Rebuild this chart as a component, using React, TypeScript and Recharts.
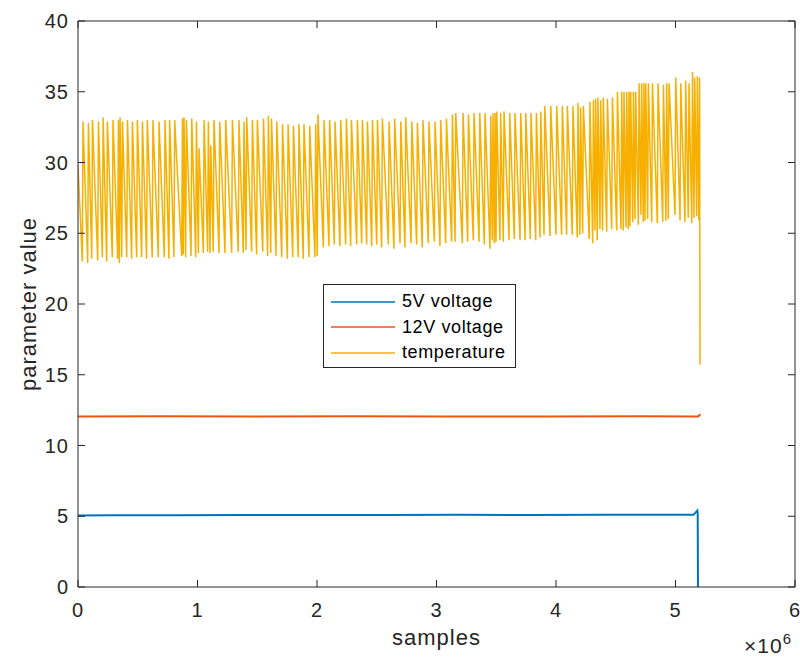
import { LineChart, Line, XAxis, YAxis, Legend } from 'recharts'

const AXIS = '#262626'
const FONT = '"Liberation Sans", Arial, Helvetica, sans-serif'

const xTicks = [0, 1, 2, 3, 4, 5, 6]
const yTicks = [0, 5, 10, 15, 20, 25, 30, 35, 40]

// 5V rail (x in 1e6 samples)
const fiveVoltX = [0, 0.3, 0.8, 1.4, 2.0, 2.6, 3.2, 3.8, 4.4, 4.9, 5.15, 5.183, 5.186, 5.188]
const fiveVoltY = [5.05, 5.07, 5.07, 5.08, 5.08, 5.09, 5.1, 5.08, 5.1, 5.1, 5.1, 5.4, 5.2, 0]

// 12V rail
const twelveVoltX = [0, 0.7, 1.5, 2.3, 3.1, 3.9, 4.7, 5.19, 5.2, 5.21]
const twelveVoltY = [12.05, 12.06, 12.05, 12.06, 12.05, 12.05, 12.06, 12.05, 12.15, 12.2]

// temperature: one rise per cycle (start position, trough before the rise, peak after it)
const tempStartValue = 29.8
const cycleStart = [
  0.036, 0.081, 0.115, 0.165, 0.204, 0.24, 0.287, 0.332, 0.346, 0.366, 0.408, 0.449, 0.491, 0.533, 0.574, 0.621,
  0.672, 0.722, 0.761, 0.803, 0.868, 0.881, 0.901, 0.946, 0.985, 1.007, 1.049, 1.085, 1.105, 1.132, 1.18, 1.23,
  1.286, 1.341, 1.383, 1.406, 1.453, 1.495, 1.546, 1.587, 1.613, 1.657, 1.705, 1.752, 1.797, 1.843, 1.885,
  1.933, 1.983, 2.002, 2.053, 2.1, 2.145, 2.192, 2.24, 2.282, 2.332, 2.374, 2.416, 2.458, 2.5, 2.541,
  2.597, 2.644, 2.695, 2.736, 2.787, 2.834, 2.881, 2.931, 2.982, 3.029, 3.077, 3.127, 3.155, 3.216, 3.261, 3.308,
  3.356, 3.4, 3.448, 3.467, 3.484, 3.498, 3.531, 3.559, 3.607, 3.651, 3.699, 3.741, 3.785, 3.83, 3.866,
  3.9, 3.95, 4.0, 4.047, 4.089, 4.136, 4.178, 4.2, 4.223, 4.278, 4.307, 4.326, 4.345, 4.368, 4.39, 4.424, 4.466,
  4.508, 4.544, 4.563, 4.586, 4.605, 4.619, 4.642, 4.661, 4.689, 4.711, 4.73, 4.745, 4.767, 4.801, 4.848, 4.893,
  4.92, 4.94, 4.996, 5.038, 5.079, 5.107, 5.136, 5.155, 5.177, 5.196,
]
const cycleLow = [
  23.0, 22.9, 23.2, 23.1, 23.3, 23.0, 23.3, 23.2, 22.9, 23.3, 23.3, 23.2, 23.3, 23.3, 23.2, 23.3,
  23.3, 23.3, 23.2, 23.3, 23.4, 23.5, 23.3, 23.4, 23.3, 23.6, 23.6, 23.7, 23.6, 23.7, 23.6, 23.6,
  23.6, 23.7, 23.6, 23.8, 23.7, 23.5, 23.7, 23.4, 23.6, 23.4, 23.3, 23.2, 23.3, 23.3, 23.2,
  23.3, 23.3, 23.4, 24.0, 24.1, 24.2, 24.1, 24.2, 24.1, 24.2, 24.3, 24.2, 24.1, 24.2, 24.0,
  24.2, 23.9, 24.3, 24.0, 24.3, 24.2, 24.0, 24.3, 24.4, 24.1, 24.3, 24.4, 24.4, 24.3, 24.4, 24.5,
  24.4, 24.2, 23.9, 24.5, 24.3, 24.4, 24.5, 24.4, 24.5, 24.6, 24.5, 24.5, 24.6, 24.5, 24.7,
  24.9, 24.8, 24.9, 24.9, 24.9, 24.9, 24.7, 24.9, 25.0, 24.6, 24.3, 25.2, 24.5, 25.3, 25.2, 25.1, 25.3,
  25.2, 25.3, 25.2, 25.4, 25.3, 25.5, 25.8, 26.0, 25.6, 26.3, 25.8, 25.9, 26.0, 25.8, 25.7, 25.8,
  25.9, 26.0, 26.3, 25.9, 25.8, 26.1, 25.7, 26.1, 26.2, 25.9,
]
const cyclePeak = [
  32.9, 32.8, 33.0, 32.9, 33.2, 32.9, 33.0, 33.0, 33.2, 32.9, 33.0, 32.9, 33.0, 32.9, 33.0, 33.0,
  32.9, 33.0, 33.0, 33.0, 33.1, 33.2, 33.0, 33.1, 32.9, 31.0, 33.0, 32.9, 31.2, 33.0, 32.9, 33.0,
  33.0, 33.0, 32.9, 33.2, 33.0, 33.0, 33.1, 33.3, 33.1, 32.9, 32.7, 32.7, 32.6, 32.7, 32.7,
  32.6, 32.7, 33.4, 33.0, 33.0, 32.9, 33.0, 33.1, 33.0, 33.0, 33.0, 32.9, 33.0, 33.0, 33.1,
  32.9, 33.1, 32.9, 33.2, 32.9, 32.8, 33.0, 32.9, 32.9, 33.0, 33.1, 33.4, 33.5, 33.5, 33.4, 33.5,
  33.5, 33.5, 33.3, 33.5, 33.5, 33.6, 33.5, 33.6, 33.5, 33.5, 33.5, 33.5, 33.5, 33.5, 33.6,
  34.0, 34.0, 34.0, 34.0, 34.0, 34.0, 34.2, 33.9, 34.0, 34.3, 34.4, 34.5, 34.6, 34.4, 34.6, 34.5, 34.6,
  35.0, 35.0, 35.0, 35.0, 35.0, 35.0, 35.0, 35.0, 35.6, 35.6, 35.6, 35.6, 35.6, 35.6, 35.6, 35.5,
  35.6, 35.6, 36.0, 35.6, 35.8, 35.6, 36.4, 36.0, 36.1, 36.0,
]
const tempEndX = 5.205
const tempEndValue = 15.7

const seriesNames = ['5V voltage', '12V voltage', 'temperature']
const COLORS = { v5: '#0072BD', v12: '#EE5514', temp: '#F8B000' }

const fiveVoltData = fiveVoltX.map((x, i) => ({ x, v: fiveVoltY[i] }))
const twelveVoltData = twelveVoltX.map((x, i) => ({ x, v: twelveVoltY[i] }))

const RISE = 0.006
const tempData: { x: number; v: number }[] = [{ x: 0, v: tempStartValue }]
cycleStart.forEach((s, i) => {
  tempData.push({ x: s, v: cycleLow[i] })
  tempData.push({ x: s + RISE, v: cyclePeak[i] })
})
tempData.push({ x: tempEndX, v: tempEndValue })

const tickText = { fill: AXIS, fontSize: 20, fontFamily: FONT, letterSpacing: 1 }

function BottomTick({ x, y, payload }: any) {
  return (
    <g>
      <line x1={x} y1={y} x2={x} y2={y - 7} stroke={AXIS} />
      <text x={x} y={y + 30} textAnchor="middle" {...tickText}>{payload.value}</text>
    </g>
  )
}

function TopTick({ x, y }: any) {
  return <line x1={x} y1={y} x2={x} y2={y + 7} stroke={AXIS} />
}

function LeftTick({ x, y, payload }: any) {
  return (
    <g>
      <line x1={x} y1={y} x2={x + 7} y2={y} stroke={AXIS} />
      <text x={x - 9} y={y + 7} textAnchor="end" {...tickText}>{payload.value}</text>
    </g>
  )
}

function RightTick({ x, y }: any) {
  return <line x1={x} y1={y} x2={x - 7} y2={y} stroke={AXIS} />
}

function LegendBox({ payload }: any) {
  const items = [...(payload ?? [])].sort(
    (a: any, b: any) => seriesNames.indexOf(a.value) - seriesNames.indexOf(b.value),
  )
  return (
    <div
      style={{
        width: 193, height: 84, boxSizing: 'border-box', border: `1px solid ${AXIS}`,
        background: '#fff', paddingTop: 4, fontFamily: FONT, fontSize: 18, letterSpacing: 0.6, color: '#000',
      }}
    >
      {items.map((p: any) => (
        <div key={p.value} style={{ display: 'flex', alignItems: 'center', height: 25.5 }}>
          <svg width={71} height={4} style={{ marginLeft: 7, flex: 'none' }}>
            <line x1={0} y1={2} x2={64} y2={2} stroke={p.color} strokeWidth={1.5} />
          </svg>
          <span style={{ whiteSpace: 'nowrap' }}>{p.value}</span>
        </div>
      ))}
    </div>
  )
}

export default function App() {
  return (
    <div style={{ position: 'absolute', left: 0, top: 0, width: 800, height: 657, background: '#fff' }}>
      <LineChart width={800} height={657} margin={{ top: 20, right: 4, bottom: 0, left: 0 }}>
        <XAxis
          type="number" dataKey="x" domain={[0, 6]} ticks={xTicks} interval={0}
          height={70} tickSize={0} tickMargin={0} tick={<BottomTick />}
          axisLine={{ stroke: AXIS }} tickLine={false} allowDataOverflow
          label={{
            content: ({ viewBox }: any) => (
              <text x={viewBox.x + viewBox.width / 2} y={viewBox.y + 58} textAnchor="middle"
                fill={AXIS} fontSize={22} letterSpacing={1} fontFamily={FONT}>samples</text>
            ),
          }}
        />
        <XAxis
          xAxisId="top" orientation="top" type="number" dataKey="x" domain={[0, 6]} ticks={xTicks}
          interval={0} height={1} tickSize={0} tickMargin={0} tick={<TopTick />}
          axisLine={{ stroke: AXIS }} tickLine={false} allowDataOverflow
        />
        <YAxis
          type="number" domain={[0, 40]} ticks={yTicks} interval={0} width={78}
          tickSize={0} tickMargin={0} tick={<LeftTick />} axisLine={{ stroke: AXIS }} tickLine={false}
          allowDataOverflow
          label={{
            content: ({ viewBox }: any) => {
              const cx = viewBox.x + 36
              const cy = viewBox.y + viewBox.height / 2
              return (
                <text x={cx} y={cy} textAnchor="middle" transform={`rotate(-90 ${cx} ${cy})`}
                  fill={AXIS} fontSize={22} letterSpacing={1} fontFamily={FONT}>parameter value</text>
              )
            },
          }}
        />
        <YAxis
          yAxisId="right" orientation="right" type="number" domain={[0, 40]} ticks={yTicks}
          interval={0} width={1} tickSize={0} tickMargin={0} tick={<RightTick />}
          axisLine={{ stroke: AXIS }} tickLine={false} allowDataOverflow
        />
        <Line data={fiveVoltData} dataKey="v" name={seriesNames[0]} stroke={COLORS.v5} strokeWidth={2}
          dot={false} activeDot={false} isAnimationActive={false} type="linear" />
        <Line data={twelveVoltData} dataKey="v" name={seriesNames[1]} stroke={COLORS.v12} strokeWidth={2}
          dot={false} activeDot={false} isAnimationActive={false} type="linear" />
        <Line data={tempData} dataKey="v" name={seriesNames[2]} stroke={COLORS.temp} strokeWidth={1.5}
          dot={false} activeDot={false} isAnimationActive={false} type="linear" />
        <Legend
          layout="vertical" align="center" verticalAlign="middle" content={<LegendBox />}
          wrapperStyle={{ left: 323, top: 284, width: 193, height: 84 }}
        />
      </LineChart>
      <div style={{ position: 'absolute', left: 744, top: 634, fontFamily: FONT, fontSize: 21, letterSpacing: 1, color: AXIS, whiteSpace: 'nowrap' }}>
        ×10<sup style={{ fontSize: 15, verticalAlign: 'top', position: 'relative', top: -4 }}>6</sup>
      </div>
    </div>
  )
}
